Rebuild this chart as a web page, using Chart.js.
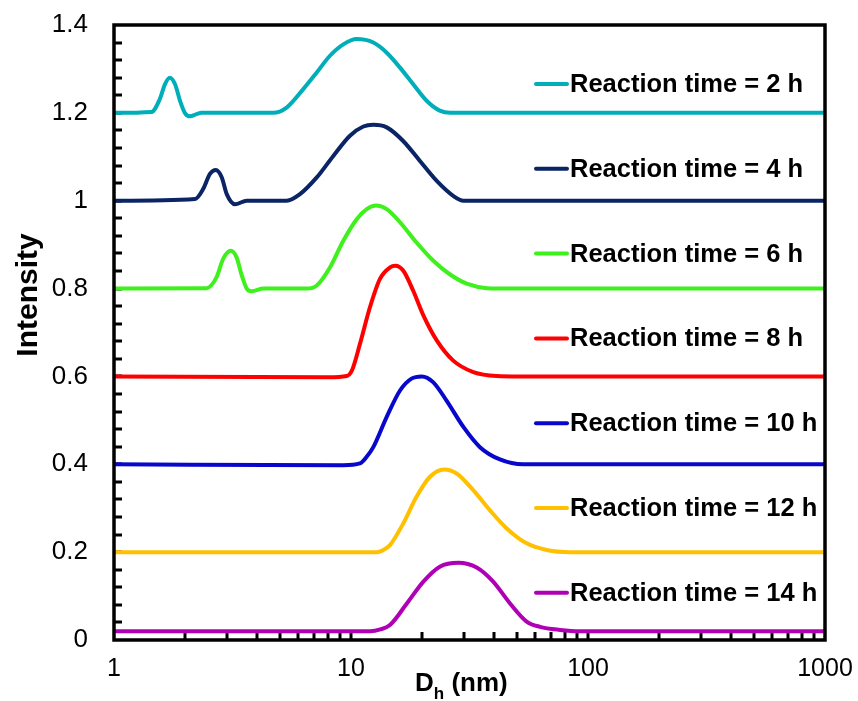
<!DOCTYPE html>
<html>
<head>
<meta charset="utf-8">
<script src="https://cdn.jsdelivr.net/npm/chart.js@4.4.0/dist/chart.umd.min.js"></script>
<style>
  html, body { margin: 0; padding: 0; background: #fff; }
</style>
</head>
<body>
<canvas id="chart" width="858" height="701"></canvas>
<script>
// hydrodynamic diameter (nm) and intensity, one pair per reaction time
const seriesLabels = ['Reaction time = 2 h', 'Reaction time = 4 h', 'Reaction time = 6 h', 'Reaction time = 8 h',
  'Reaction time = 10 h', 'Reaction time = 12 h', 'Reaction time = 14 h']
const seriesColours = ['#00AEBA', '#0A2466', '#3EF01C', '#FF0000', '#0808CC', '#FFC000', '#B000B6']

const dh2h = [1, 1.44, 1.56, 1.64, 1.72, 1.81, 1.9, 1.99, 2.09, 2.23, 2.34, 4.0, 4.7, 5.35, 6.29, 7.17, 8.15, 9.28, 10.57, 12.42, 14.15, 16.1, 18.3, 20.9, 23.7, 26.2, 40, 1000]
const int2h = [1.2, 1.202, 1.231, 1.265, 1.28, 1.265, 1.227, 1.2, 1.192, 1.197, 1.2, 1.2, 1.2, 1.212, 1.254, 1.292, 1.33, 1.356, 1.368, 1.36, 1.337, 1.303, 1.265, 1.227, 1.205, 1.2, 1.2, 1.2]

const dh4h = [1, 2.2, 2.38, 2.54, 2.69, 2.85, 2.99, 3.24, 3.63, 5.35, 6.09, 7.17, 8.42, 9.9, 11.27, 12.42, 14.15, 16.6, 19.5, 23.0, 27.0, 29.8, 1000]
const int4h = [1.0, 1.004, 1.027, 1.061, 1.07, 1.053, 1.015, 0.992, 1.0, 1.0, 1.015, 1.053, 1.102, 1.148, 1.169, 1.173, 1.167, 1.136, 1.091, 1.045, 1.011, 1.0, 1.0]

const dh6h = [1, 2.46, 2.71, 2.89, 3.11, 3.29, 3.46, 3.63, 3.81, 4.27, 6.5, 7.17, 8.15, 9.28, 10.57, 11.65, 12.75, 14.15, 16.1, 18.9, 22.2, 26.2, 30.8, 37.4, 46.9, 1000]
const int6h = [0.8, 0.801, 0.826, 0.868, 0.886, 0.871, 0.83, 0.8, 0.794, 0.8, 0.8, 0.807, 0.848, 0.909, 0.958, 0.981, 0.989, 0.981, 0.951, 0.905, 0.864, 0.832, 0.811, 0.801, 0.8, 0.8]

const dh8h = [1, 8.0, 9.6, 10.1, 10.91, 12.03, 13.25, 14.6, 15.4, 16.6, 18.3, 20.2, 23.0, 27.0, 32.8, 41.2, 51.6, 1000]
const int8h = [0.6, 0.598, 0.601, 0.614, 0.674, 0.758, 0.822, 0.848, 0.852, 0.841, 0.795, 0.739, 0.682, 0.636, 0.61, 0.601, 0.6, 0.6]

const dh10h = [1, 9.28, 10.91, 11.6, 12.42, 14.15, 16.1, 18.0, 19.9, 22.2, 25.3, 29.8, 35.0, 42.5, 53.3, 1000]
const int10h = [0.4, 0.398, 0.402, 0.416, 0.439, 0.508, 0.568, 0.595, 0.6, 0.587, 0.545, 0.485, 0.439, 0.411, 0.4, 0.4]

const dh12h = [1, 12.84, 13.6, 14.6, 16.6, 18.9, 21.5, 24.7, 27.9, 32.8, 38.6, 45.4, 55.1, 66.9, 84.0, 1000]
const int12h = [0.2, 0.2, 0.204, 0.216, 0.265, 0.326, 0.371, 0.388, 0.379, 0.341, 0.295, 0.254, 0.22, 0.205, 0.2, 0.2]

const dh14h = [1, 12.03, 13.3, 14.6, 17.2, 20.2, 23.7, 28.4, 33.9, 39.8, 46.9, 55.1, 62.7, 76.2, 92.5, 1000]
const int14h = [0.02, 0.02, 0.024, 0.034, 0.083, 0.133, 0.167, 0.176, 0.165, 0.133, 0.083, 0.042, 0.03, 0.023, 0.02, 0.02]

const xTickLabels = [1, 10, 100, 1000]
const yTickLabels = [0, 0.2, 0.4, 0.6, 0.8, 1, 1.2, 1.4]

const sizes = [dh2h, dh4h, dh6h, dh8h, dh10h, dh12h, dh14h]
const intensities = [int2h, int4h, int6h, int8h, int10h, int12h, int14h]

const FONT = '"Liberation Sans", Arial, sans-serif'

// excel-style frame, inward minor ticks, legend next to each curve and axis titles
const excelLook = {
  id: 'excelLook',
  beforeDatasetsDraw(chart) {
    const { ctx, chartArea: a, scales: { x, y } } = chart
    ctx.save()
    ctx.strokeStyle = '#000'
    ctx.lineWidth = 3
    ctx.beginPath()
    for (let d = 1; d < 1000; d *= 10) {
      for (let k = 1; k < 10; k++) {
        const v = d * k
        if (v === 1) continue
        const px = Math.round(x.getPixelForValue(v))
        ctx.moveTo(px, a.bottom)
        ctx.lineTo(px, a.bottom - 8)
      }
    }
    for (let i = 1; i < 35; i++) {
      const py = Math.round(y.getPixelForValue(i * 0.04))
      ctx.moveTo(a.left, py)
      ctx.lineTo(a.left + 8, py)
    }
    ctx.stroke()
    ctx.restore()
  },
  afterDatasetsDraw(chart) {
    const { ctx, chartArea: a } = chart
    ctx.save()
    ctx.strokeStyle = '#000'
    ctx.lineWidth = 3.5
    ctx.strokeRect(a.left, a.top, a.right - a.left, a.bottom - a.top)

    ctx.font = 'bold 25.5px ' + FONT
    ctx.textBaseline = 'middle'
    ctx.fillStyle = '#000'
    chart.data.datasets.forEach((ds, i) => {
      const ly = a.top + 59 + i * 84.8
      ctx.strokeStyle = ds.borderColor
      ctx.lineWidth = 4
      ctx.lineCap = 'round'
      ctx.beginPath()
      ctx.moveTo(536, ly)
      ctx.lineTo(567, ly)
      ctx.stroke()
      ctx.fillText(ds.label, 570, ly + 1)
    })

    // y title
    ctx.save()
    ctx.translate(37, 295)
    ctx.rotate(-Math.PI / 2)
    ctx.font = 'bold 30px ' + FONT
    ctx.textAlign = 'center'
    ctx.textBaseline = 'alphabetic'
    ctx.fillText('Intensity', 0, 0)
    ctx.restore()

    // x title with subscript
    ctx.textBaseline = 'alphabetic'
    ctx.textAlign = 'left'
    let tx = 415
    ctx.font = 'bold 26px ' + FONT
    ctx.fillText('D', tx, 691)
    tx += ctx.measureText('D').width
    ctx.font = 'bold 17px ' + FONT
    ctx.fillText('h', tx, 699)
    tx += ctx.measureText('h').width
    ctx.font = 'bold 26px ' + FONT
    ctx.fillText(' (nm)', tx, 691)
    ctx.restore()
  }
}

new Chart(document.getElementById('chart'), {
  type: 'line',
  data: {
    datasets: seriesLabels.map((label, i) => ({
      label,
      data: sizes[i].map((d, j) => ({ x: d, y: intensities[i][j] })),
      borderColor: seriesColours[i],
      borderWidth: 4,
      pointRadius: 0,
      cubicInterpolationMode: 'monotone',
      fill: false
    }))
  },
  options: {
    responsive: false,
    animation: false,
    layout: { padding: { left: 0, right: 33, top: 25, bottom: 0 } },
    plugins: { legend: { display: false }, tooltip: { enabled: false } },
    scales: {
      x: {
        type: 'logarithmic',
        min: 1,
        max: 1000,
        grid: { display: false, drawTicks: false },
        border: { display: false },
        afterFit(scale) {
          scale.height = 61
          scale.paddingLeft = 0
          scale.paddingRight = 0
        },
        ticks: {
          autoSkip: false,
          maxRotation: 0,
          padding: 14,
          color: '#000',
          font: { family: FONT, size: 25 },
          callback: v => (xTickLabels.includes(v) ? String(v) : '')
        }
      },
      y: {
        min: 0,
        max: 1.4,
        grid: { display: false, drawTicks: false },
        border: { display: false },
        afterFit(scale) {
          scale.width = 114
          scale.paddingTop = 0
          scale.paddingBottom = 0
        },
        afterBuildTicks(scale) { scale.ticks = yTickLabels.map(v => ({ value: v })) },
        ticks: {
          padding: 26,
          color: '#000',
          font: { family: FONT, size: 26 },
          callback: v => String(+v.toFixed(1))
        }
      }
    }
  },
  plugins: [excelLook]
})
</script>
</body>
</html>
